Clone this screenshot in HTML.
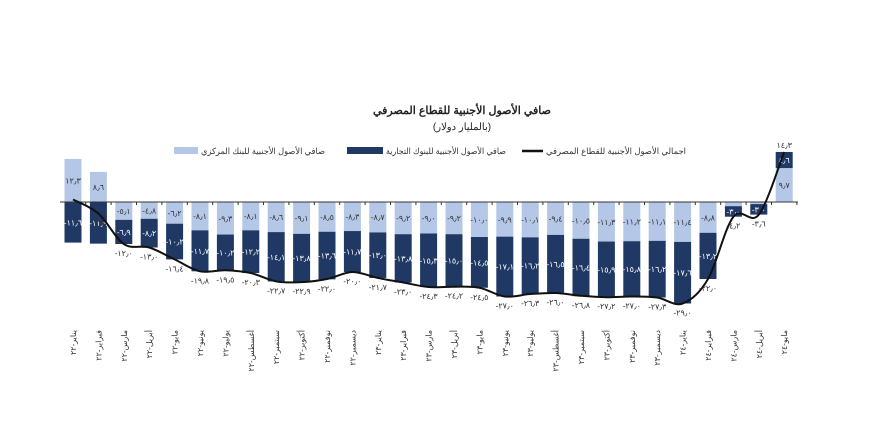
<!DOCTYPE html>
<html><head><meta charset="utf-8"><style>
body{margin:0;background:#fff;width:874px;height:426px;overflow:hidden}
svg{font-family:"Liberation Sans","Noto Sans CJK SC",sans-serif}
</style></head><body>
<svg id="c" width="874" height="426" xmlns="http://www.w3.org/2000/svg"></svg>
<script>
const L=[12.3,8.6,-5.1,-4.8,-6.2,-8.1,-9.3,-8.1,-8.6,-9.1,-8.5,-8.3,-8.7,-9.2,-9.0,-9.2,-10.0,-9.9,-10.1,-9.4,-10.5,-11.3,-11.2,-11.1,-11.4,-8.8,-1.2,-0.6,9.7];
const D=[-11.6,-11.9,-6.9,-8.2,-10.2,-11.7,-10.2,-12.2,-14.1,-13.8,-13.6,-11.7,-13.0,-13.8,-15.3,-15.0,-14.5,-17.1,-16.2,-16.5,-16.4,-15.9,-15.8,-16.2,-17.6,-13.2,-3.0,-3.0,4.6];
const T=[0.7,-3.3,-12.0,-13.0,-16.4,-19.8,-19.5,-20.3,-22.7,-22.9,-22.0,-20.0,-21.7,-23.0,-24.3,-24.2,-24.5,-27.0,-26.3,-26.0,-26.8,-27.2,-27.0,-27.3,-29.0,-22.0,-4.2,-3.6,14.3];
const M=["يناير","فبراير","مارس","أبريل","مايو","يونيو","يوليو","أغسطس","سبتمبر","أكتوبر","نوفمبر","ديسمبر"];
const ar=s=>s.replace(/[0-9]/g,d=>"٠١٢٣٤٥٦٧٨٩"[d]).replace(".","٫");
const f=v=>(v<0?"-":"")+ar(Math.abs(v).toFixed(1));
const Z=202,K=3.5,X0=73,S=25.4,W=17;
let s='';
s+='<text x="462" y="114" text-anchor="middle" font-size="11" font-weight="bold" fill="#222">صافي الأصول الأجنبية للقطاع المصرفي</text>';
s+='<text x="462" y="130" text-anchor="middle" font-size="10" fill="#222">(بالمليار دولار)</text>';
s+='<rect x="174" y="147" width="24" height="7" fill="#b4c7e7"/><text x="201" y="154" font-size="8.5" fill="#333" textLength="124" lengthAdjust="spacingAndGlyphs">صافي الأصول الأجنبية للبنك المركزي</text>';
s+='<rect x="347" y="147" width="36" height="7" fill="#203864"/><text x="386" y="154" font-size="8.5" fill="#333" textLength="120" lengthAdjust="spacingAndGlyphs">صافي الأصول الأجنبية للبنوك التجارية</text>';
s+='<line x1="522" y1="151" x2="543" y2="151" stroke="#111" stroke-width="2.5"/><text x="546" y="154" font-size="8.5" fill="#333" textLength="140" lengthAdjust="spacingAndGlyphs">اجمالي الأصول الأجنبية للقطاع المصرفي</text>';
let pts=[];
for(let i=0;i<29;i++){
 const cx=X0+i*S,x=cx-W/2;
 let l=L[i],d=D[i];
 if(l>=0&&d>=0){
  s+=`<rect x="${x}" y="${Z-l*K}" width="${W}" height="${l*K}" fill="#b4c7e7"/>`;
  s+=`<rect x="${x}" y="${Z-(l+d)*K}" width="${W}" height="${d*K}" fill="#203864"/>`;
  s+=`<text x="${cx}" y="${Z-l*K/2+3}" text-anchor="middle" font-size="8" fill="#333">${f(l)}</text>`;
  s+=`<text x="${cx}" y="${Z-(l+d/2)*K+3}" text-anchor="middle" font-size="8" fill="#fff">${f(d)}</text>`;
 } else if(l>=0){
  s+=`<rect x="${x}" y="${Z-l*K}" width="${W}" height="${l*K}" fill="#b4c7e7"/>`;
  s+=`<rect x="${x}" y="${Z}" width="${W}" height="${-d*K}" fill="#203864"/>`;
  s+=`<text x="${cx}" y="${Z-l*K/2+3}" text-anchor="middle" font-size="8" fill="#333">${f(l)}</text>`;
  s+=`<text x="${cx}" y="${Z-d*K/2+3}" text-anchor="middle" font-size="8" fill="#fff">${f(d)}</text>`;
 } else {
  s+=`<rect x="${x}" y="${Z}" width="${W}" height="${-l*K}" fill="#b4c7e7"/>`;
  s+=`<rect x="${x}" y="${Z-l*K}" width="${W}" height="${-d*K}" fill="#203864"/>`;
  if(-l>2)s+=`<text x="${cx}" y="${Z-l*K/2+3}" text-anchor="middle" font-size="8" fill="#333">${f(l)}</text>`;
  s+=`<text x="${cx}" y="${Z-(l+d/2)*K+3}" text-anchor="middle" font-size="8" fill="#fff">${f(d)}</text>`;
 }
 const ty=Z-T[i]*K;pts.push([cx,ty]);
 if(i==28)s+=`<text x="${cx}" y="${ty-4}" text-anchor="middle" font-size="8" fill="#333">${f(T[i])}</text>`;
 else if(i>0)s+=`<text x="${cx}" y="${Math.max(ty,Z-(l+d)*K)+12}" text-anchor="middle" font-size="8" fill="#333">${f(T[i])}</text>`;
 const m=M[i%12],yr=22+Math.floor(i/12);
 s+=`<text transform="translate(${cx+3},330) rotate(-90)" text-anchor="end" font-size="8" fill="#333">${m}-${ar(String(yr))}</text>`;
 s+=`<line x1="${cx+S/2}" y1="${Z}" x2="${cx+S/2}" y2="${Z+3}" stroke="#333"/>`;
}
s+=`<line x1="60" y1="${Z}" x2="798" y2="${Z}" stroke="#333" stroke-width="1"/>`;
let p=`M${pts[0][0]},${pts[0][1]}`;
for(let i=0;i<pts.length-1;i++){
 const p0=pts[Math.max(0,i-1)],p1=pts[i],p2=pts[i+1],p3=pts[Math.min(pts.length-1,i+2)];
 p+=` C${p1[0]+(p2[0]-p0[0])/6},${p1[1]+(p2[1]-p0[1])/6} ${p2[0]-(p3[0]-p1[0])/6},${p2[1]-(p3[1]-p1[1])/6} ${p2[0]},${p2[1]}`;
}
s+=`<path d="${p}" fill="none" stroke="#111" stroke-width="2"/>`;
document.getElementById('c').innerHTML=s;
</script>
</body></html>
